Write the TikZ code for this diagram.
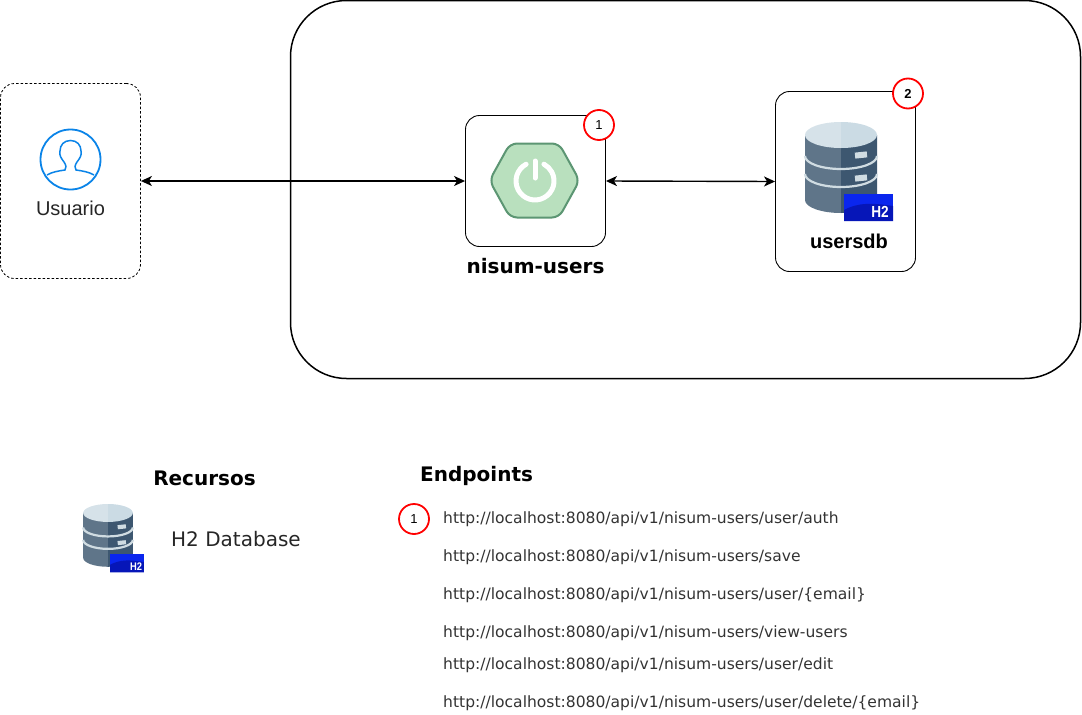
\documentclass[tikz,border=0pt]{standalone}
\usepackage{fontspec}
\setmainfont{Liberation Sans}
\newfontfamily\dv{DejaVu Sans}
\usetikzlibrary{arrows.meta,calc}
\definecolor{dbtopl}{HTML}{D6E2E9}
\definecolor{dbtopr}{HTML}{CBDBE4}
\definecolor{dbl}{HTML}{5F7589}
\definecolor{dbr}{HTML}{3D5770}
\definecolor{dbstripe}{HTML}{D0DCE2}
\definecolor{hblue}{HTML}{0A26EE}
\definecolor{hblued}{HTML}{0616B8}
\definecolor{iconblue}{HTML}{0A84E8}
\definecolor{springfill}{HTML}{B9E0BE}
\definecolor{springline}{HTML}{5C9673}
\tikzset{
 x=1pt,y=-1pt,
 box/.style={draw=black,line width=.9pt,rounded corners=14pt,minimum width=140pt,inner sep=0pt,fill=white},
 badge/.style={circle,draw=red,line width=1.8pt,fill=white,minimum size=30pt,inner sep=0pt,font=\fontsize{13}{15}\selectfont},
 link/.style={line width=1.4pt,{Stealth[length=11pt,width=10pt,inset=3pt]}-{Stealth[length=11pt,width=10pt,inset=3pt]}},
 url/.style={anchor=base west,inner sep=0pt,font=\fontsize{15.55}{18}\selectfont\dv,text=black!80},
 head/.style={anchor=base,inner sep=0pt,font=\fontsize{20}{24}\selectfont\dv\bfseries},
 pics/dbicon/.style={code={
   \fill[dbl] (-36,13) -- (-36,78) arc[start angle=180,end angle=270,x radius=36pt,y radius=13pt] -- (0,13) -- cycle;
   \fill[dbr] (36,13) -- (36,78) arc[start angle=0,end angle=-90,x radius=36pt,y radius=13pt] -- (0,13) -- cycle;
   \foreach \yy in {34,52}{
     \draw[dbstripe,line width=2.2pt] (-36,\yy) arc[start angle=180,end angle=360,x radius=36pt,y radius=13pt];
   }
   \fill[dbtopl] (0,0) arc[start angle=90,end angle=270,x radius=36pt,y radius=13pt] -- cycle;
   \fill[dbtopr] (0,0) arc[start angle=90,end angle=-90,x radius=36pt,y radius=13pt] -- cycle;
   \fill[dbstripe,rotate around={6:(20,33)}] (14,30) rectangle (26,36);
   \fill[dbstripe,rotate around={6:(20,56)}] (14,53) rectangle (26,59);
   \fill[hblue] (3,72) rectangle (52,99);
   \fill[hblued] (3,99) -- (3,88) .. controls (18,80) and (32,81) .. (52,84) -- (52,99) -- cycle;
 }},
}
\begin{document}
\begin{tikzpicture}
\useasboundingbox (0,0) rectangle (1082,715);
\node[box,rounded corners=56pt,line width=1.5pt,minimum width=790pt,minimum height=378pt] (cloud) at (685.5,189.5) {};
\node[box,line width=.8pt,minimum height=195pt,dash pattern=on 2.5pt off 2pt] (user) at (70.5,181) {};
\node[box,minimum height=131pt] (app) at (535.5,181) {};
\node[box,minimum height=180pt] (db) at (845.5,181.5) {};
\draw[link] (user.east) -- (app.west);
\draw[link] (app.east) -- (db.west);
% user icon
\node[circle,draw=iconblue,line width=1.8pt,minimum size=60pt,inner sep=0pt] (avatar) at (70.5,159.5) {};
\draw[iconblue,line width=1.5pt]
 (47,175) .. controls (52,172) and (58,171) .. (65,170) .. controls (67,168) and (66,165) .. (64,162)
 .. controls (61,158) and (59,155) .. (60,151) .. controls (60,145) and (64,140.5) .. (70.5,140.5)
 .. controls (77,140.5) and (81,145) .. (81,151) .. controls (82,155) and (80,158) .. (77,162)
 .. controls (75,165) and (74,168) .. (76,170) .. controls (83,171) and (89,172) .. (94,175);
\node[anchor=base,inner sep=0pt,font=\fontsize{20}{24}\selectfont,text=black!85] (ulabel) at (70.5,215) {Usuario};
% spring hexagon
\draw[fill=springfill,draw=springline,line width=2pt,rounded corners=7pt]
 (489.5,180.5) -- (510,143.5) -- (559,143.5) -- (579.5,180.5) -- (559,217.5) -- (510,217.5) -- cycle;
\draw[white,line width=5pt,line cap=round] (526.1,164.2) arc[start angle=118,end angle=422,radius=19pt];
\draw[white,line width=5pt,line cap=round] (535,161) -- (535,178);
\node[head] (applabel) at (535.5,273) {nisum-users};
\pic at (841,122) {dbicon};
\node[anchor=base,inner sep=0pt,font=\fontsize{20}{24}\selectfont\bfseries] (dblabel) at (849,248) {usersdb};
\node[anchor=center,inner sep=0pt,xscale=.85,font=\fontsize{16}{18}\selectfont\bfseries,text=white] (h2a) at (880,212) {H2};
\node[badge] (b1) at (599,125) {1};
\node[badge,font=\fontsize{13}{15}\selectfont\bfseries] (b2) at (908,93.5) {2};
% lower
\node[head] (rec) at (204.5,485) {Recursos};
\pic[scale=.69] at (108,504) {dbicon};
\node[anchor=center,inner sep=0pt,xscale=.85,font=\fontsize{11}{12}\selectfont\bfseries,text=white] (h2b) at (136,567) {H2};
\node[anchor=base west,inner sep=0pt,font=\fontsize{20}{24}\selectfont\dv,text=black!85] (h2db) at (171,546) {H2 Database};
\node[head,anchor=base west] (ep) at (420,481) {Endpoints};
\node[badge] (b3) at (414,519) {1};
\node[url] (u1) at (443,523) {http://localhost:8080/api/v1/nisum-users/user/auth};
\node[url] (u2) at (443,561) {http://localhost:8080/api/v1/nisum-users/save};
\node[url] (u3) at (443,599) {http://localhost:8080/api/v1/nisum-users/user/\{email\}};
\node[url] (u4) at (443,637) {http://localhost:8080/api/v1/nisum-users/view-users};
\node[url] (u5) at (443,669) {http://localhost:8080/api/v1/nisum-users/user/edit};
\node[url] (u6) at (443,707) {http://localhost:8080/api/v1/nisum-users/user/delete/\{email\}};
\end{tikzpicture}
\end{document}
